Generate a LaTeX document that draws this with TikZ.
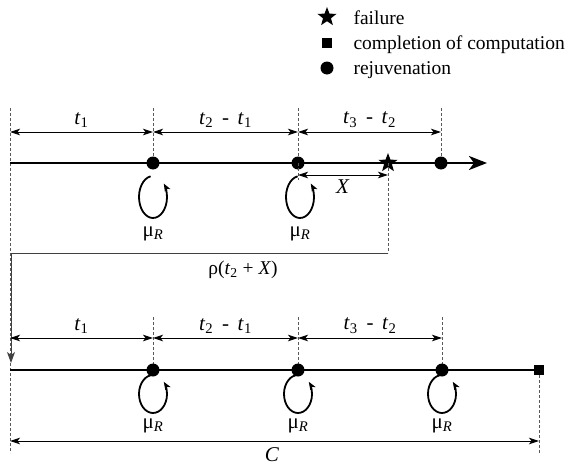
\documentclass[tikz,border=0pt]{standalone}
\usepackage{fontspec}
\setmainfont{Liberation Serif}
\usetikzlibrary{shapes.geometric,arrows.meta,positioning,calc}
\tikzstyle{timeline} = [line width=2.6pt]
\tikzstyle{dim} = [line width=0.9pt,{Stealth[length=10pt,width=6.5pt,inset=2.5pt]}-{Stealth[length=10pt,width=6.5pt,inset=2.5pt]}]
\tikzstyle{guide} = [black!65, dash pattern=on 3pt off 2pt, line width=0.8pt]
\tikzstyle{dot} = [circle, fill=black, minimum size=13pt, inner sep=0]
\tikzstyle{failmark} = [star, star points=5, star point ratio=2.4, fill=black, minimum size=20pt, inner sep=0]
\tikzstyle{donemark} = [rectangle, fill=black, minimum size=10pt, inner sep=0]
\tikzstyle{selfloop} = [line width=1.8pt,-{Stealth[length=8pt,width=6pt,inset=2pt]}]
\tikzstyle{feedback} = [line width=0.9pt, black!75]
\tikzstyle{interval} = [font=\fontsize{21}{24}\selectfont]

\begin{document}
\begin{tikzpicture}[x=1pt, y=-1pt, font=\fontsize{19.5}{23}\selectfont]
\useasboundingbox (0,0) rectangle (574,466);

% Legend
\node[failmark] (lfail) at (327,17) {};
\node[donemark] (ldone) at (327,43) {};
\node[dot] (lrej) at (327,68) {};
\node[anchor=base west] (tfail) at (350,24) {failure};
\node[anchor=base west] (tdone) at (350,49) {completion of computation};
\node[anchor=base west] (trej) at (350,74) {rejuvenation};

% Upper time line
\coordinate (a0) at (10,163);
\coordinate (aend) at (487,163);
\coordinate (g0) at (10,108);
\coordinate (g1) at (153,108);
\coordinate (g2) at (298,108);
\coordinate (g3) at (441,108);
\coordinate (gb0) at (10,453);
\draw[guide] (g0) -- (gb0);
\draw[guide] (g1) -- (153,163);
\draw[guide] (g2) -- (298,163);
\draw[guide] (g3) -- (441,163);
\draw[timeline,-{Stealth[length=18pt,width=14pt,inset=5pt]}] (a0) -- (aend);
\node[dot] (a1) at (153,163) {};
\node[dot] (a2) at (298,163) {};
\node[dot] (a3) at (441,163) {};
\node[failmark] (af) at (388,163) {};

% Upper intervals
\coordinate (d0) at (10,132);
\coordinate (d1) at (153,132);
\coordinate (d2) at (298,132);
\coordinate (d3) at (441,132);
\draw[dim] (d0) -- (d1) node[midway, above=1pt, interval] (lt1) {\textit{t}\textsubscript{1}};
\draw[dim] (d1) -- (d2) node[midway, above=1pt, interval] (lt21) {\textit{t}\textsubscript{2} \,- \,\textit{t}\textsubscript{1}};
\draw[dim] (d2) -- (d3) node[midway, above=1pt, interval] (lt32) {\textit{t}\textsubscript{3} \,- \,\textit{t}\textsubscript{2}};

% Time to failure
\coordinate (x0) at (298,175);
\coordinate (x1) at (388,175);
\draw[guide] (a2.center) -- (298,180);
\draw[dim] (x0) -- (x1) node[midway, below=1pt, interval] (lx) {\textit{X}};

% Rejuvenation loops (upper)
\draw[selfloop] ($(153,197)+(-100:14 and 21)$) arc[start angle=-100, end angle=-400, x radius=14, y radius=21];
\draw[selfloop] ($(300,197)+(-100:14 and 21)$) arc[start angle=-100, end angle=-400, x radius=14, y radius=21];
\node[interval] (mu1) at (153,234) {μ\textsubscript{\textit{R}}};
\node[interval] (mu2) at (300,234) {μ\textsubscript{\textit{R}}};

% Restart after failure
\coordinate (rb) at (388,253);
\coordinate (rc) at (11,253);
\coordinate (rtip) at (11,363);
\draw[guide] (af.center) -- (rb);
\draw[feedback] (rb) -- (rc);
\draw[feedback,-{Stealth[length=11pt,width=8pt,inset=3pt]}] (rc) -- (rtip);
\node (rho) at (243,270) {ρ(\textit{t}\textsubscript{2} + \textit{X})};

% Lower time line
\coordinate (b0) at (10,370);
\coordinate (h1) at (153,317);
\coordinate (h2) at (298,317);
\coordinate (h3) at (442,317);
\coordinate (hb) at (539,453);
\draw[guide] (h1) -- (153,370);
\draw[guide] (h2) -- (298,370);
\draw[guide] (h3) -- (442,370);
\draw[guide] (539,370) -- (hb);
\draw[timeline] (b0) -- (539,370);
\node[dot] (b1) at (153,370) {};
\node[dot] (b2) at (298,370) {};
\node[dot] (b3) at (442,370) {};
\node[donemark] (bs) at (539,370) {};

% Lower intervals
\coordinate (e0) at (10,338);
\coordinate (e1) at (153,338);
\coordinate (e2) at (298,338);
\coordinate (e3) at (442,338);
\draw[dim] (e0) -- (e1) node[midway, above=1pt, interval] (lu1) {\textit{t}\textsubscript{1}};
\draw[dim] (e1) -- (e2) node[midway, above=1pt, interval] (lu21) {\textit{t}\textsubscript{2} \,- \,\textit{t}\textsubscript{1}};
\draw[dim] (e2) -- (e3) node[midway, above=1pt, interval] (lu32) {\textit{t}\textsubscript{3} \,- \,\textit{t}\textsubscript{2}};

% Rejuvenation loops (lower)
\draw[selfloop] ($(153,394)+(-100:14 and 19)$) arc[start angle=-100, end angle=-400, x radius=14, y radius=19];
\draw[selfloop] ($(298,394)+(-100:14 and 19)$) arc[start angle=-100, end angle=-400, x radius=14, y radius=19];
\draw[selfloop] ($(442,394)+(-100:14 and 19)$) arc[start angle=-100, end angle=-400, x radius=14, y radius=19];
\node[interval] (mu3) at (153,426) {μ\textsubscript{\textit{R}}};
\node[interval] (mu4) at (298,426) {μ\textsubscript{\textit{R}}};
\node[interval] (mu5) at (442,426) {μ\textsubscript{\textit{R}}};

% Total time
\coordinate (c0) at (10,441);
\coordinate (c1) at (539,441);
\draw[dim] (c0) -- (c1);
\node[interval] (ctot) at (272,455) {\textit{C}};

\end{tikzpicture}
\end{document}
